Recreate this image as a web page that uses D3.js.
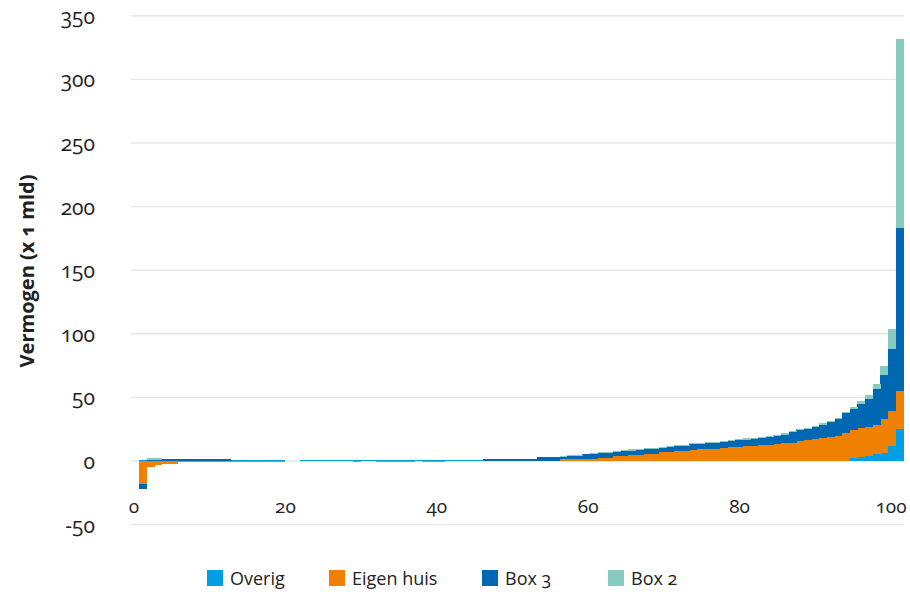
<!DOCTYPE html>
<html>
<head>
<meta charset="utf-8">
<script src="https://cdn.jsdelivr.net/npm/d3@7"></script>
<style>
  body { margin: 0; background: #fff; }
  svg text { font-family: "Open Sans", sans-serif; fill: #222; font-variant-numeric: oldstyle-nums; }
</style>
</head>
<body>
<svg id="chart"></svg>
<script>
// Vermogen per percentiel (x 1 mld), percentiel 1 t/m 100
const percentielen = [
  1, 2, 3, 4, 5, 6, 7, 8, 9, 10, 11, 12, 13, 14, 15, 16, 17, 18, 19, 20,
  21, 22, 23, 24, 25, 26, 27, 28, 29, 30, 31, 32, 33, 34, 35, 36, 37, 38, 39, 40,
  41, 42, 43, 44, 45, 46, 47, 48, 49, 50, 51, 52, 53, 54, 55, 56, 57, 58, 59, 60,
  61, 62, 63, 64, 65, 66, 67, 68, 69, 70, 71, 72, 73, 74, 75, 76, 77, 78, 79, 80,
  81, 82, 83, 84, 85, 86, 87, 88, 89, 90, 91, 92, 93, 94, 95, 96, 97, 98, 99, 100
];

const overig = [
  1, 0, 0, 0.3, 0.3, 0.3, 0.3, 0.3, 0.3, 0.3,
  0.3, 0.3, 0.8, 0.8, 0.8, 0.8, 0.8, 0.8, 0.8, 0,
  0, 0.8, 0.8, 0.8, 0.8, 0.8, 0.8, 0.8, 0.8, 0.8,
  0.8, 0.8, 0.8, 1, 1, 1, 1, 1, 1, 1,
  1, 1, 1, 1, 1, 0.3, 0.3, 0.3, 0.3, 0.3,
  0.3, 0.3, 0.3, 0.3, 0.3, 0, 0, 0, 0, 0,
  0, 0, 0, 0, 0, 0, 0, 0, 0, 0,
  0, 0, 0, 0, 0, 0, 0, 0, 0, 0,
  0, 0, 0, 0, 0, 0, 0, 0, 0, 0,
  0, 0, 0.3, 2.3, 3, 4, 5.5, 6, 11.5, 25
];

const eigenHuis = [
  -18, -5, -3, -2, -2, -1, -1, -1, -0.5, -0.5,
  -0.5, -0.5, -0.5, -0.5, -0.5, -0.5, -0.5, -0.5, -0.5, 0,
  0, 0, 0, 0, 0, 0, 0, 0, -0.5, 0,
  0, -0.5, -0.5, -0.5, -0.5, -0.5, 0, -0.5, -0.5, -0.5,
  0, 0, 0, 0, 0, 0, 0, 0, 0, 0,
  0, 0, 0, 0, 0, 1.6, 1.6, 1.6, 1.6, 1.6,
  2.6, 2.6, 3.6, 3.6, 4.7, 4.7, 5.7, 5.7, 6.8, 6.8,
  7.8, 8, 8.9, 9.1, 9.4, 9.7, 10.4, 10.9, 11.3, 11.7,
  11.8, 12.2, 12.8, 13.2, 14, 14.5, 15.4, 16.4, 17, 18,
  18.5, 20, 22.1, 21.7, 23, 23, 22.5, 27, 27.5, 30
];

const box3 = [
  -4, 1, 1, 1.5, 1.5, 1.5, 1.5, 1.5, 1.5, 1.5,
  1.5, 1.5, 0, 0, 0, 0, 0, 0, 0, 0,
  0, 0, 0, 0, 0, 0, 0, 0, 0, 0,
  0, 0, 0, 0, 0, 0, 0, 0, 0, 0,
  0, 0, 0, 0, 0, 1.5, 1.5, 1.5, 1.5, 1.5,
  1, 1, 2.5, 2.5, 2.5, 1.8, 2.0, 2.3, 3.6, 3.6,
  3.9, 3.9, 3.7, 3.9, 3.4, 3.7, 3.4, 3.7, 3.6, 3.9,
  3.6, 4, 4.1, 4.2, 4.4, 4.6, 4.7, 4.5, 5.1, 5.2,
  5.5, 6, 6, 6.3, 6.8, 8.2, 8.6, 8.9, 9.6, 10.4,
  12, 12.8, 15.1, 16.6, 19, 22, 28.5, 35, 49, 128
];

const box2 = [
  0, 1, 1, 0, 0, 0, 0, 0, 0, 0,
  0, 0, 0, 0, 0, 0, 0, 0, 0, 0,
  0, 0, 0, 0, 0, 0, 0, 0, 0, 0,
  0, 0, 0, 0, 0, 0, 0, 0, 0, 0,
  0, 0, 0, 0, 0, 0, 0, 0, 0, 0,
  0, 0, 0, 0, 0, 0.8, 1.1, 1.0, 0.5, 0.8,
  0.8, 0.8, 0.8, 0.8, 1.0, 0.8, 1.3, 1.0, 0.5, 0.8,
  1.3, 0.8, 0.8, 0.8, 0.8, 0.8, 0.8, 0.8, 1.0, 0.8,
  1.0, 1.0, 1.0, 1.0, 1.0, 0.8, 1.0, 1.0, 1.0, 1.1,
  1.3, 1.2, 1.3, 2.1, 2.5, 3, 4, 6.5, 16, 149
];

const seriesNames = ["Overig", "Eigen huis", "Box 3", "Box 2"];
const seriesColors = ["#009fe3", "#f08100", "#0067b3", "#87cbbe"];
const yTicks = [-50, 0, 50, 100, 150, 200, 250, 300, 350];
const xTicks = [0, 20, 40, 60, 80, 100];

const W = 910, H = 594;
const svg = d3.select("#chart").attr("width", W).attr("height", H);

// table for d3.stack
const table = percentielen.map((p, i) => ({
  p: p,
  "Overig": overig[i],
  "Eigen huis": eigenHuis[i],
  "Box 3": box3[i],
  "Box 2": box2[i]
}));

const stacked = d3.stack()
  .keys(seriesNames)
  .offset(d3.stackOffsetDiverging)(table);

const yScale = d3.scaleLinear().domain([-50, 350]).range([524.6, 15.8]);
// bars sit on a band scale, axis labels on a linear scale
const xBand = d3.scaleBand().domain(percentielen).range([139.3, 903.3]).padding(0);
const xAxisScale = d3.scaleLinear().domain([0, 100]).range([134, 891]);
const color = d3.scaleOrdinal().domain(seriesNames).range(seriesColors);

// Gridlines
svg.append("g")
  .selectAll("line")
  .data(yTicks)
  .join("line")
  .attr("x1", 131)
  .attr("x2", 904)
  .attr("y1", d => yScale(d))
  .attr("y2", d => yScale(d))
  .attr("stroke", "#e6e6e6")
  .attr("stroke-width", 1.4);

// Y tick labels
svg.append("g")
  .selectAll("text")
  .data(yTicks)
  .join("text")
  .attr("x", 95)
  .attr("y", d => yScale(d) + 8)
  .attr("text-anchor", "end")
  .attr("font-size", "21px")
  .text(d => d);

// X tick labels
svg.append("g")
  .selectAll("text")
  .data(xTicks)
  .join("text")
  .attr("x", d => xAxisScale(d))
  .attr("y", 513)
  .attr("text-anchor", "middle")
  .attr("font-size", "19px")
  .text(d => d);

// Stacked bars
svg.append("g")
  .selectAll("g")
  .data(stacked)
  .join("g")
  .attr("fill", d => color(d.key))
  .selectAll("rect")
  .data(d => d.filter(s => s[1] !== s[0]))
  .join("rect")
  .attr("x", d => xBand(d.data.p))
  .attr("width", xBand.bandwidth() + 0.2)
  .attr("y", d => yScale(Math.max(d[0], d[1])))
  .attr("height", d => Math.abs(yScale(d[0]) - yScale(d[1])))
  .attr("shape-rendering", "crispEdges");

// Y axis title
svg.append("text")
  .attr("transform", "translate(34, 271) rotate(-90)")
  .attr("text-anchor", "middle")
  .attr("font-size", "20px")
  .attr("font-weight", "bold")
  .text("Vermogen (x 1 mld)");

// Legend
const legendX = [207, 329, 482, 608];
const legend = svg.append("g")
  .selectAll("g")
  .data(seriesNames)
  .join("g")
  .attr("transform", (d, i) => `translate(${legendX[i]}, 570)`);

legend.append("rect")
  .attr("width", 16)
  .attr("height", 16)
  .attr("fill", d => color(d));

legend.append("text")
  .attr("x", 23)
  .attr("y", 15)
  .attr("font-size", "18px")
  .text(d => d);
</script>
</body>
</html>
